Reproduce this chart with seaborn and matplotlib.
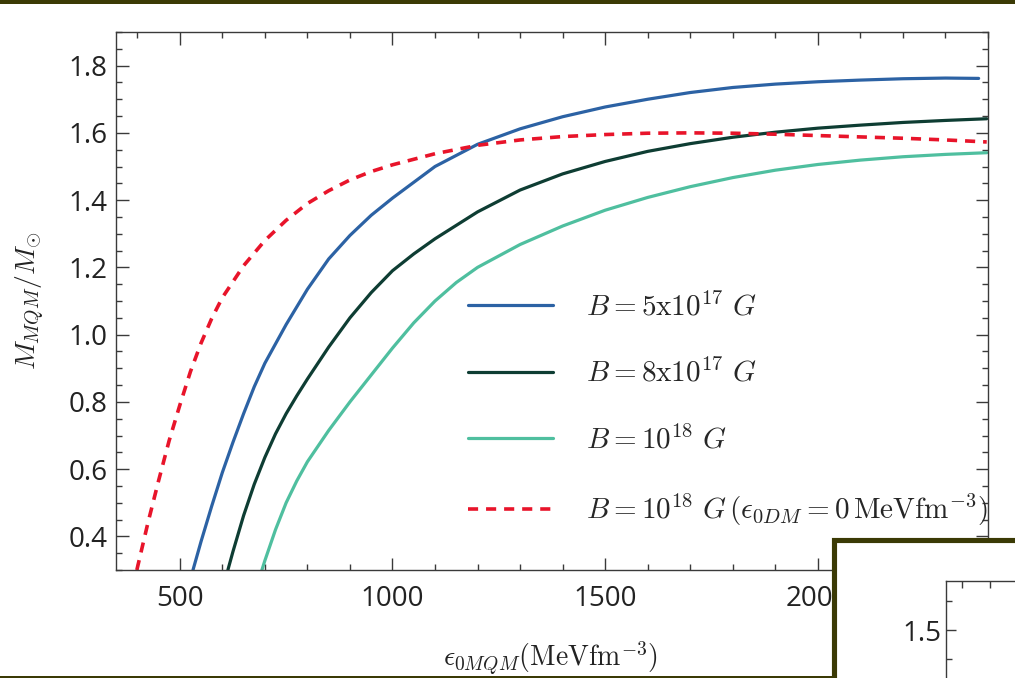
import matplotlib
matplotlib.use("Agg")
import matplotlib.pyplot as plt
import seaborn as sns
from matplotlib.patches import Rectangle
from matplotlib.ticker import MultipleLocator, NullFormatter

# ---------------- data ----------------
labels = [r"$B=5\mathrm{x}10^{17}\ G$",
          r"$B=8\mathrm{x}10^{17}\ G$",
          r"$B=10^{18}\ G$",
          r"$B=10^{18}\ G\,(\epsilon_{0DM}=0\,\mathrm{MeVfm}^{-3})$"]

x_b5e17 = [531, 550, 575, 600, 625, 650, 675, 700, 750, 800, 850, 900, 950, 1000, 1100,
           1200, 1300, 1400, 1500, 1600, 1700, 1800, 1900, 2000, 2100, 2200, 2300, 2378]
y_b5e17 = [0.300, 0.385, 0.490, 0.590, 0.680, 0.765, 0.845, 0.915, 1.030, 1.135, 1.225,
           1.295, 1.355, 1.406, 1.500, 1.566, 1.612, 1.648, 1.677, 1.700, 1.720, 1.735,
           1.745, 1.752, 1.757, 1.761, 1.763, 1.762]

x_b8e17 = [613, 625, 650, 675, 700, 725, 750, 775, 800, 850, 900, 950, 1000, 1050, 1100,
           1200, 1300, 1400, 1500, 1600, 1700, 1800, 1900, 2000, 2100, 2200, 2300, 2397]
y_b8e17 = [0.300, 0.355, 0.462, 0.555, 0.635, 0.705, 0.765, 0.818, 0.868, 0.963, 1.050,
           1.125, 1.190, 1.240, 1.285, 1.365, 1.430, 1.478, 1.515, 1.545, 1.568, 1.587,
           1.602, 1.614, 1.623, 1.631, 1.637, 1.642]

x_b1e18 = [693, 700, 725, 750, 775, 800, 850, 900, 950, 1000, 1050, 1100, 1150, 1200,
           1300, 1400, 1500, 1600, 1700, 1800, 1900, 2000, 2100, 2200, 2300, 2397]
y_b1e18 = [0.300, 0.328, 0.420, 0.500, 0.565, 0.622, 0.715, 0.800, 0.880, 0.960, 1.035,
           1.100, 1.155, 1.200, 1.268, 1.323, 1.370, 1.408, 1.440, 1.467, 1.489, 1.506,
           1.519, 1.529, 1.536, 1.541]

x_nodm = [399, 425, 450, 475, 500, 525, 550, 575, 600, 650, 700, 750, 800, 850, 900, 950,
          1000, 1100, 1200, 1300, 1400, 1500, 1600, 1700, 1800, 1900, 2000, 2100, 2200,
          2300, 2397]
y_nodm = [0.300, 0.440, 0.565, 0.685, 0.790, 0.890, 0.975, 1.048, 1.110, 1.205, 1.280,
          1.340, 1.390, 1.428, 1.460, 1.485, 1.505, 1.538, 1.563, 1.579, 1.589, 1.595,
          1.599, 1.600, 1.599, 1.596, 1.592, 1.588, 1.584, 1.579, 1.573]

colors = ["#2c62a4", "#0e3d33", "#4fbf9f", "#e8142a"]
xlabel = r"$\epsilon_{0MQM}(\mathrm{MeVfm}^{-3})$"
ylabel = r"$M_{MQM}/M_{\odot}$"

# ---------------- style ----------------
sns.set_theme(style="ticks")
plt.rcParams['font.family'] = ['Open Sans', 'DejaVu Sans']
plt.rcParams['mathtext.fontset'] = 'cm'

W, H = 1015, 678
fig = plt.figure(figsize=(W / 100, H / 100), dpi=100)
fig.patch.set_facecolor("white")
ax = fig.add_axes([116 / W, (H - 570) / H, (988 - 116) / W, (570 - 32) / H])

series = [(x_b5e17, y_b5e17), (x_b8e17, y_b8e17), (x_b1e18, y_b1e18), (x_nodm, y_nodm)]
for i, ((xs, ys), lab, col) in enumerate(zip(series, labels, colors)):
    if i == 3:
        sns.lineplot(x=xs, y=ys, ax=ax, color=col, lw=2.6, label=lab, sort=False,
                     estimator=None, linestyle=(0, (2.8, 2.2)))
    else:
        sns.lineplot(x=xs, y=ys, ax=ax, color=col, lw=2.3, label=lab, sort=False,
                     estimator=None)

ax.set_xlim(350, 2400)
ax.set_ylim(0.3, 1.9)
ax.xaxis.set_major_locator(MultipleLocator(500))
ax.xaxis.set_minor_locator(MultipleLocator(100))
ax.yaxis.set_major_locator(MultipleLocator(0.2))
ax.yaxis.set_minor_locator(MultipleLocator(0.05))
spine_col = "#3a3a3a"
for s in ax.spines.values():
    s.set_color(spine_col)
    s.set_linewidth(1.0)
ax.tick_params(which='both', direction='in', top=True, right=True, colors=spine_col,
               labelcolor="#222222", width=1.0)
ax.tick_params(which='major', length=9, labelsize=20)
ax.tick_params(which='minor', length=4.5)
ax.tick_params(axis='x', which='major', pad=11)
ax.tick_params(axis='y', which='major', pad=6)

ax.set_xlabel(xlabel, fontsize=20, color="#222222")
ax.set_ylabel(ylabel, fontsize=20, color="#222222")
ax.xaxis.set_label_coords(0.498, -0.128)
ax.yaxis.set_label_coords(-0.079, 0.5)

ax.legend(loc='upper left', bbox_to_anchor=(0.4037, 0.514), frameon=False, fontsize=21,
          handlelength=2.9, handletextpad=1.14, labelspacing=1.27, borderpad=0,
          borderaxespad=0)

# ---------------- slide decorations ----------------
olive = "#3b3a05"
fig.add_artist(Rectangle((0, 1 - 3.5 / H), 1, 0.02, transform=fig.transFigure,
                         facecolor=olive, edgecolor='none', zorder=10))
fig.add_artist(Rectangle((0, -0.02), 833 / W, 0.02 + 2.5 / H, transform=fig.transFigure,
                         facecolor=olive, edgecolor='none', zorder=10))
fig.add_artist(Rectangle((833.5 / W, -0.05), 0.5, 0.05 + (H - 539.5) / H,
                         transform=fig.transFigure, facecolor='white', edgecolor=olive,
                         lw=3.7, zorder=5))

# inset (cut off by the slide edge)
ax2_h = 0.2 + (H - 581) / H
ax2 = fig.add_axes([946 / W, -0.2, 0.2, ax2_h], zorder=6)
ax2.set_facecolor("white")
hpx = ax2_h * H
per = 0.05 / 29
ax2.set_ylim(1.5845 - hpx * per, 1.5845)
ax2.set_yticks([1.5])
ax2.yaxis.set_minor_locator(MultipleLocator(0.05))
wpx = 0.2 * W
ax2.set_xlim(-16 / 28, -16 / 28 + wpx / 28)
ax2.xaxis.set_major_locator(MultipleLocator(1))
ax2.xaxis.set_major_formatter(NullFormatter())
for s in ax2.spines.values():
    s.set_color(spine_col)
    s.set_linewidth(1.0)
ax2.tick_params(which='both', direction='in', top=True, bottom=False, colors=spine_col,
                labelcolor="#222222", width=1.0, labelbottom=False)
ax2.tick_params(which='major', length=7, labelsize=20)
ax2.tick_params(which='minor', length=4.5)
ax2.tick_params(axis='x', which='major', length=5)

fig.savefig("out.png", dpi=100, facecolor="white")
